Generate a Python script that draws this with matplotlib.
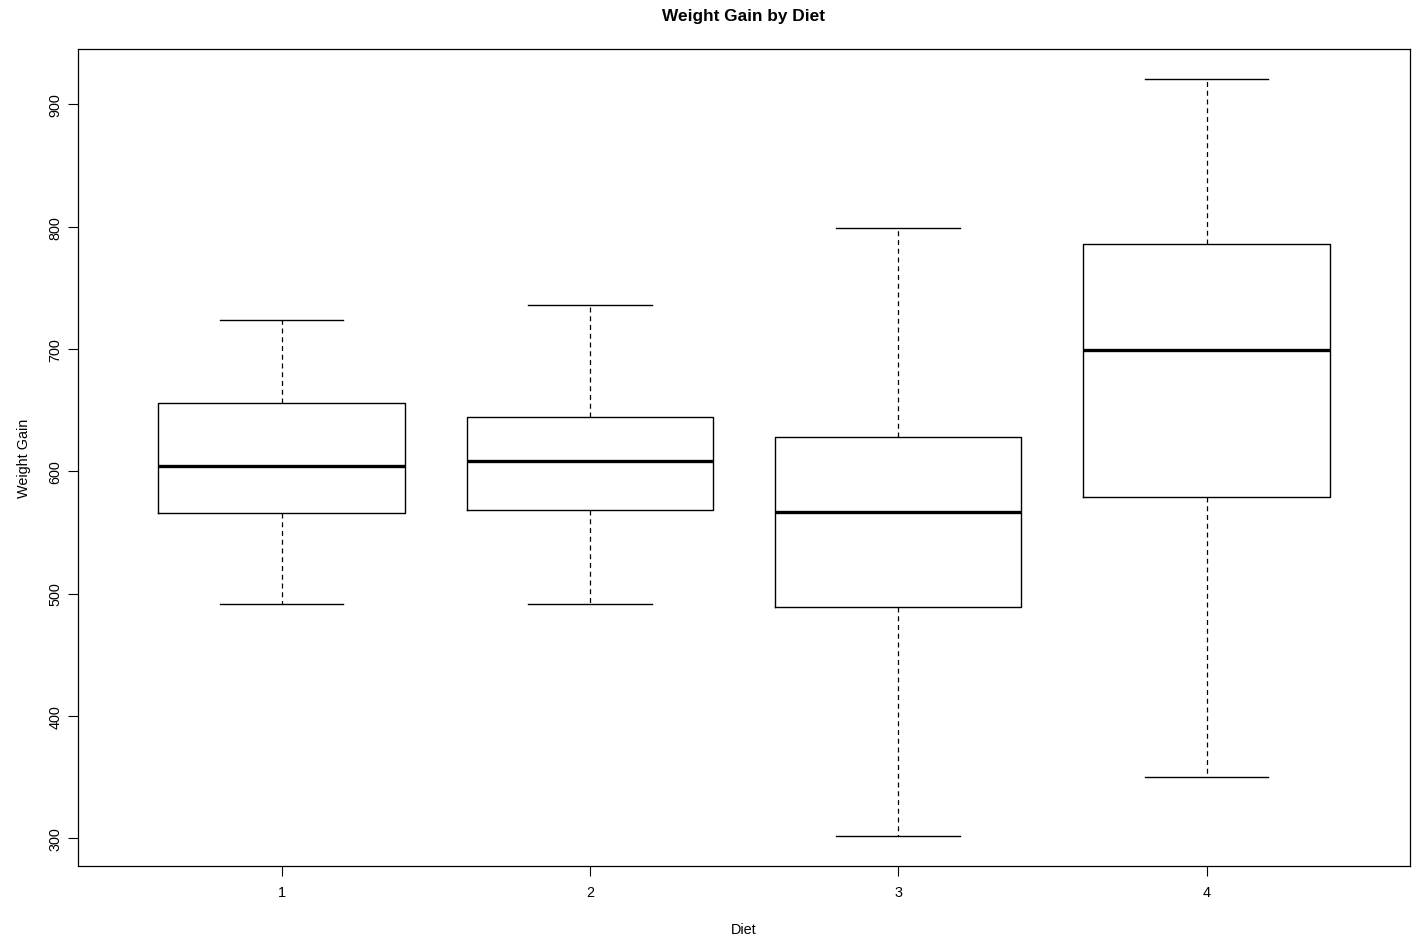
import matplotlib
matplotlib.use("Agg")
import matplotlib.pyplot as plt

plt.rcParams['font.family'] = ['Liberation Sans', 'DejaVu Sans']

diets = ["1", "2", "3", "4"]
whislo = [491.5, 491.5, 302, 350]
q1 = [566, 568.5, 489, 579]
med = [604.5, 608.5, 567, 699]
q3 = [656, 644, 628, 786]
whishi = [724, 736, 798.5, 920.5]

stats = []
for i, d in enumerate(diets):
    stats.append(dict(label=d, whislo=whislo[i], q1=q1[i], med=med[i],
                      q3=q3[i], whishi=whishi[i], fliers=[]))

fig = plt.figure(figsize=(14.13, 9.37), dpi=100)
ax = fig.add_axes([78/1413, (937-867)/937, (1410-78)/1413, (867-50)/937])

ax.bxp(stats, positions=[1, 2, 3, 4], widths=0.8, showfliers=False,
       boxprops=dict(color='black', linewidth=1.0),
       medianprops=dict(color='black', linewidth=2.4),
       whiskerprops=dict(color='black', linewidth=0.9, linestyle=(0, (4, 3))),
       capprops=dict(color='black', linewidth=1.0),
       capwidths=0.4)

ax.set_xlim(0.34, 4.66)
lo = min(whislo); hi = max(whishi)
r = hi - lo
ax.set_ylim(lo - 0.04 * r, hi + 0.04 * r)
ax.set_yticks([300, 400, 500, 600, 700, 800, 900])
ax.set_xticks([1, 2, 3, 4])
ax.set_xticklabels(diets)

for lab in ax.get_yticklabels():
    lab.set_rotation(90)
    lab.set_va('center')
ax.tick_params(axis='both', labelsize=10.4, length=7, width=0.8, colors='black')
ax.tick_params(axis='x', pad=7)
ax.tick_params(axis='y', pad=4)
for s in ax.spines.values():
    s.set_linewidth(0.9)

ax.set_title("Weight Gain by Diet", fontsize=12.4, fontweight='bold', pad=21)
ax.set_xlabel("Diet", fontsize=10.4, labelpad=16)
ax.set_ylabel("Weight Gain", fontsize=10.4, labelpad=13)

fig.savefig("out.png", dpi=100)
